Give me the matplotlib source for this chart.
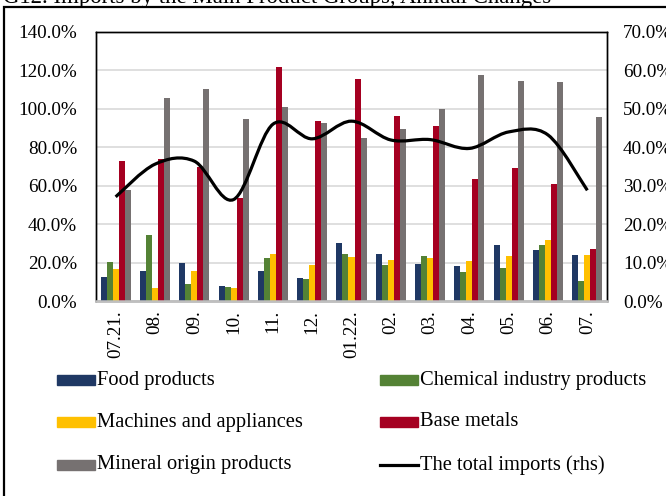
import numpy as np
import matplotlib
matplotlib.use('Agg')
import matplotlib.pyplot as plt
from matplotlib.path import Path
from matplotlib.patches import PathPatch, Rectangle
from matplotlib.lines import Line2D

months = ['07.21.', '08.', '09.', '10.', '11.', '12.', '01.22.',
          '02.', '03.', '04.', '05.', '06.', '07.']

food = [12.6, 15.5, 19.6, 8.0, 15.8, 11.8, 30.3, 24.3, 19.1, 18.4, 29.2, 26.4, 23.8]
chemical = [20.5, 34.4, 8.8, 7.5, 22.4, 11.5, 24.3, 18.6, 23.3, 15.1, 17.3, 29.0, 10.4]
machines = [16.7, 6.6, 15.8, 6.9, 24.6, 18.7, 23.1, 21.3, 22.6, 20.7, 23.4, 31.8, 23.9]
base_metals = [72.9, 73.9, 69.9, 53.5, 121.8, 93.5, 115.6, 96.3, 90.9, 63.5, 69.1, 60.7, 27.2]
mineral = [57.8, 105.8, 110.2, 94.7, 101.1, 92.8, 84.7, 89.5, 100.0, 117.6, 114.5, 114.0, 95.8]
total_rhs = [27.1, 35.6, 36.4, 26.4, 46.0, 42.2, 46.8, 41.9, 42.0, 39.7, 44.0, 43.2, 28.8]

series = [
    ('Food products', food, '#1f3864'),
    ('Chemical industry products', chemical, '#548235'),
    ('Machines and appliances', machines, '#ffc000'),
    ('Base metals', base_metals, '#a50021'),
    ('Mineral origin products', mineral, '#767171'),
]

W, H = 666, 496
plt.rcParams['font.family'] = ['Liberation Serif', 'DejaVu Serif']
fig = plt.figure(figsize=(W / 100, H / 100), dpi=100)

# outer chart frame (right and bottom sides fall outside the picture)
fig.patches.append(Rectangle((4 / W, -0.1), 1.2, 1 - 7 / H + 0.1,
                             transform=fig.transFigure, fill=False,
                             edgecolor='black', linewidth=1.6))
fig.text(3 / W, 1 - 2.5 / H, 'G12. Imports by the Main Product Groups, Annual Changes',
         fontsize=16.4, va='baseline', ha='left')

ax = fig.add_axes([96 / W, 1 - 301 / H, (607 - 96) / W, (301 - 32) / H])
ax2 = ax.twinx()

x = np.arange(len(months))
w = 0.153
for i, (name, vals, col) in enumerate(series):
    ax.bar(x + (i - 2) * w, vals, width=w, color=col, zorder=3)

ax.set_xlim(-0.5, len(months) - 0.5)
ax.set_ylim(0, 140)
ax.set_yticks(np.arange(0, 141, 20))
ax.set_yticklabels([f'{v:.1f}%' for v in np.arange(0, 141, 20)])
ax.set_xticks(x)
ax.set_xticklabels(months, rotation=90, va='top', ha='center')
ax.yaxis.grid(True, color='#d9d9d9', linewidth=1.2, zorder=0)
ax.set_axisbelow(True)
ax.tick_params(axis='y', length=0, pad=13.5, labelsize=13.8)
ax.tick_params(axis='x', length=0, pad=6.5, labelsize=13.8)

ax2.set_ylim(0, 70)
ax2.set_yticks(np.arange(0, 71, 10))
ax2.set_yticklabels([f'{v:.1f}%' for v in np.arange(0, 71, 10)])
ax2.tick_params(axis='y', length=0, pad=11.5, labelsize=13.8)

for a in (ax, ax2):
    for side in ('left', 'top', 'right'):
        a.spines[side].set_color('black')
        a.spines[side].set_linewidth(1.0)
    a.spines['bottom'].set_color('#bfbfbf')
    a.spines['bottom'].set_linewidth(1.8)

# smoothed total imports line, Bezier segments through the data points
pts = np.column_stack([x, total_rhs]).astype(float)
verts = [pts[0]]
codes = [Path.MOVETO]
n = len(pts)
for i in range(n - 1):
    p0 = pts[i - 1] if i > 0 else pts[i]
    p1 = pts[i]
    p2 = pts[i + 1]
    p3 = pts[i + 2] if i + 2 < n else pts[i + 1]
    c1 = p1 + (p2 - p0) / 6
    c2 = p2 - (p3 - p1) / 6
    verts += [c1, c2, p2]
    codes += [Path.CURVE4] * 3
ax2.add_patch(PathPatch(Path(verts, codes), fill=False, edgecolor='black',
                        linewidth=2.3, zorder=4))

# legend, two columns, three rows
handles = [Rectangle((0, 0), 1, 1, color=c) for _, _, c in series]
handles.append(Line2D([0], [0], color='black', linewidth=2.3))
labels = [s[0] for s in series] + ['The total imports (rhs)']
rows_y = [380, 422, 465]
cols_x = [57, 380]
for k, (h, lab) in enumerate(zip(handles, labels)):
    cx = cols_x[k % 2]
    cy = rows_y[k // 2]
    if isinstance(h, Rectangle):
        fig.patches.append(Rectangle((cx / W, 1 - (cy + 5) / H), 38 / W, 10 / H,
                                     transform=fig.transFigure,
                                     color=h.get_facecolor()))
    else:
        fig.lines.append(Line2D([cx / W, (cx + 38) / W], [1 - cy / H, 1 - cy / H],
                                transform=fig.transFigure, color='black',
                                linewidth=2.3))
    fig.text((cx + 40) / W, 1 - cy / H, lab, fontsize=14.8, va='center', ha='left')

fig.savefig('out.png', dpi=100)
